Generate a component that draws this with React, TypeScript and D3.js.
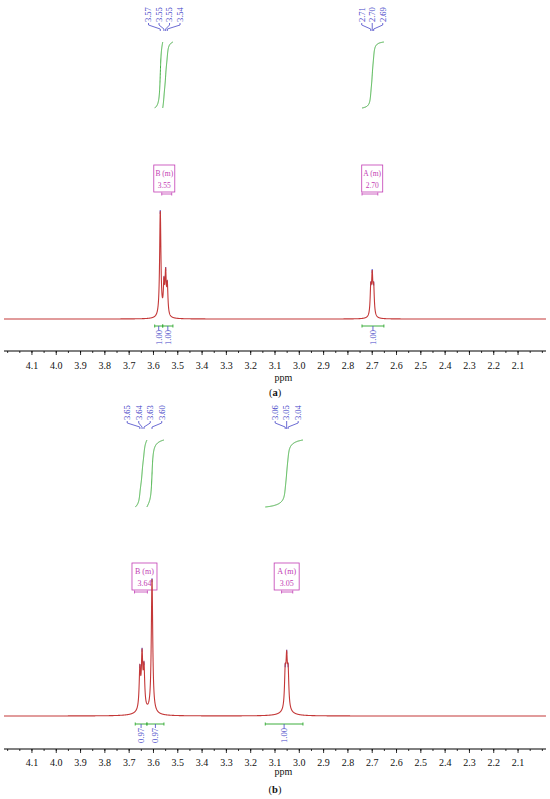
import React from 'react';
import * as d3 from 'd3';

// ---------- Panel (a) data ----------
const peaksA_ppm = [3.572, 3.557, 3.550, 3.543, 2.706, 2.700, 2.694, 3.562, 2.700];
const peaksA_int = [0.99, 0.27, 0.37, 0.27, 0.25, 0.35, 0.25, 0.012, 0.012];
const peaksA_w = [0.0032, 0.003, 0.003, 0.003, 0.003, 0.003, 0.003, 0.015, 0.012];
const labelPpmA = [3.572, 3.557, 3.550, 3.543, 2.706, 2.700, 2.694];
const labelTextA = ['3.57', '3.55', '3.55', '3.54', '2.71', '2.70', '2.69'];
const labelGroupA = [0, 0, 0, 0, 1, 1, 1];
const multNameA = ['B (m)', 'A (m)'];
const multShiftA = ['3.55', '2.70'];
const multRangeA = [[3.566, 3.525], [2.742, 2.677]];
const integRangeA = [[3.595, 3.562], [3.562, 3.520], [2.742, 2.652]];
const integValA = ['1.00', '1.00', '1.00'];

// ---------- Panel (b) data ----------
const peaksB_ppm = [3.656, 3.647, 3.639, 3.606, 3.058, 3.052, 3.046, 3.645, 3.606, 3.052];
const peaksB_int = [0.28, 0.37, 0.28, 0.96, 0.25, 0.32, 0.25, 0.025, 0.015, 0.025];
const peaksB_w = [0.0035, 0.0035, 0.0035, 0.0035, 0.0035, 0.0035, 0.0035, 0.03, 0.02, 0.03];
const labelPpmB = [3.656, 3.647, 3.639, 3.606, 3.058, 3.052, 3.046];
const labelTextB = ['3.65', '3.64', '3.63', '3.60', '3.06', '3.05', '3.04'];
const labelGroupB = [0, 0, 0, 0, 1, 1, 1];
const multNameB = ['B (m)', 'A (m)'];
const multShiftB = ['3.64', '3.05'];
const multRangeB = [[3.678, 3.625], [3.073, 3.027]];
const integRangeB = [[3.675, 3.627], [3.627, 3.557], [3.140, 2.985]];
const integValB = ['0.97', '0.97', '1.00'];

// ---------- axis ----------
const tickValues = [4.1, 4.0, 3.9, 3.8, 3.7, 3.6, 3.5, 3.4, 3.3, 3.2, 3.1, 3.0, 2.9, 2.8, 2.7, 2.6, 2.5, 2.4, 2.3, 2.2, 2.1];
const ppmDomain = [4.215, 1.985];

const RED = '#c43838';
const GREEN = '#3cae3c';
const BLUE = '#4646c8';
const MAG = '#c23cb4';
const FONT = '"Liberation Serif", "DejaVu Serif", serif';

const x = d3.scaleLinear().domain(ppmDomain).range([4, 546]);

function spec(p: number, ppm: number[], inten: number[], w: number[]) {
  let s = 0;
  for (let i = 0; i < ppm.length; i++) {
    const d = p - ppm[i];
    s += inten[i] * (w[i] * w[i]) / (d * d + w[i] * w[i]);
  }
  return s;
}

type Layout = {
  baseline: number; height: number; labelBottom: number; integBottom: number; integTop: number;
  boxTop: number; boxW: number; boxH: number; boxFont: number; multBracket: number;
  integBracket: number; axisY: number; tickY: number; ppmY: number; capY: number; caption: string;
  labelFont: number; labelSpacing: number;
};

function Panel(props: {
  ppm: number[]; inten: number[]; w: number[];
  labelPpm: number[]; labelText: string[]; labelGroup: number[];
  multName: string[]; multShift: string[]; multRange: number[][];
  integRange: number[][]; integVal: string[]; L: Layout;
}) {
  const { ppm, inten, w, labelPpm, labelText, labelGroup, multName, multShift, multRange, integRange, integVal, L } = props;
  const y = d3.scaleLinear().domain([0, 1]).range([L.baseline, L.baseline - L.height]);
  const f = (p: number) => spec(p, ppm, inten, w);
  const pts = d3.range(ppmDomain[0], ppmDomain[1] - 0.0001, -0.0003).map(p => [p, f(p)] as [number, number]);
  const line = d3.line<[number, number]>().x(d => x(d[0])).y(d => y(d[1]));

  // integrals
  const integPaths = integRange.map(([lo, hi]) => {
    const ps = d3.range(lo, hi - 0.00005, -0.0002);
    let cum = 0;
    const c: number[] = [0];
    for (let i = 1; i < ps.length; i++) {
      cum += (f(ps[i]) + f(ps[i - 1])) / 2;
      c.push(cum);
    }
    const yi = d3.scaleLinear().domain([0, cum]).range([L.integBottom, L.integTop]);
    const data = ps.map((p, i) => [p, c[i]] as [number, number]);
    return d3.line<[number, number]>().x(d => x(d[0])).y(d => yi(d[1]))(data) as string;
  });

  // label groups
  const groups = d3.groups(labelPpm.map((p, i) => ({ p, t: labelText[i], g: labelGroup[i] })), d => d.g);
  const labelEls: JSX.Element[] = [];
  const groupCenters: number[] = [];
  groups.forEach(([g, items]) => {
    const cx = d3.mean(items, d => x(d.p)) as number;
    groupCenters[g] = cx;
    const n = items.length;
    items.forEach((d, i) => {
      const xl = cx + (i - (n - 1) / 2) * L.labelSpacing;
      const xp = x(d.p);
      const yb = L.labelBottom;
      labelEls.push(
        <g key={`l${g}-${i}`}>
          <text transform={`translate(${xl + L.labelFont * 0.33},${yb}) rotate(-90)`} fontSize={L.labelFont} fill={BLUE} fontFamily={FONT}>{d.t}</text>
          <path d={`M${xl},${yb + 1}L${xl},${yb + 3}L${xp},${yb + 7}L${xp},${yb + 9}`} fill="none" stroke={BLUE} strokeWidth={0.8} />
          <line x1={xp} x2={xp} y1={y(f(d.p)) - 1} y2={y(f(d.p)) + 3} stroke={BLUE} strokeWidth={1.2} opacity={0.8} />
        </g>
      );
    });
  });

  const minorTicks = d3.range(4.2, 1.98, -0.05);

  return (
    <g>
      {integPaths.map((d, i) => <path key={`ip${i}`} d={d} fill="none" stroke={GREEN} strokeWidth={1} />)}
      {labelEls}
      {multName.map((m, i) => {
        const cx = groupCenters[i];
        const [a, b] = multRange[i];
        return (
          <g key={`m${i}`}>
            <rect x={cx - L.boxW / 2} y={L.boxTop} width={L.boxW} height={L.boxH} fill="none" stroke={MAG} strokeWidth={0.8} />
            <text x={cx} y={L.boxTop + L.boxH * 0.42} textAnchor="middle" fontSize={L.boxFont} fill={MAG} fontFamily={FONT}>{m}</text>
            <text x={cx} y={L.boxTop + L.boxH * 0.84} textAnchor="middle" fontSize={L.boxFont} fill={MAG} fontFamily={FONT}>{multShift[i]}</text>
            <line x1={x(a)} x2={x(b)} y1={L.multBracket} y2={L.multBracket} stroke={MAG} strokeWidth={0.8} />
            <line x1={x(a)} x2={x(a)} y1={L.multBracket - 1.5} y2={L.multBracket + 1.5} stroke={MAG} strokeWidth={0.8} />
            <line x1={x(b)} x2={x(b)} y1={L.multBracket - 1.5} y2={L.multBracket + 1.5} stroke={MAG} strokeWidth={0.8} />
          </g>
        );
      })}
      <path d={line(pts) as string} fill="none" stroke={RED} strokeWidth={1.1} />
      {integRange.map(([lo, hi], i) => {
        const xc = (x(lo) + x(hi)) / 2;
        const yb = L.integBracket;
        return (
          <g key={`ib${i}`}>
            <line x1={x(lo)} x2={x(hi)} y1={yb} y2={yb} stroke={GREEN} strokeWidth={1} />
            <line x1={x(lo)} x2={x(lo)} y1={yb - 1.5} y2={yb + 1.5} stroke={GREEN} strokeWidth={1} />
            <line x1={x(hi)} x2={x(hi)} y1={yb - 1.5} y2={yb + 1.5} stroke={GREEN} strokeWidth={1} />
            <line x1={xc} x2={xc} y1={yb} y2={yb + 4} stroke={BLUE} strokeWidth={0.8} />
            <text transform={`translate(${xc + L.labelFont * 0.33},${yb + 4}) rotate(-90)`} textAnchor="end" fontSize={L.labelFont} fill={BLUE} fontFamily={FONT}>{integVal[i]}</text>
          </g>
        );
      })}
      <line x1={4} x2={546} y1={L.axisY} y2={L.axisY} stroke="#000" strokeWidth={1} />
      {minorTicks.map((t, i) => (
        <line key={`mt${i}`} x1={x(t)} x2={x(t)} y1={L.axisY} y2={L.axisY + 2} stroke="#000" strokeWidth={0.8} />
      ))}
      {tickValues.map((t, i) => (
        <g key={`t${i}`}>
          <line x1={x(t)} x2={x(t)} y1={L.axisY} y2={L.axisY + 4} stroke="#000" strokeWidth={0.8} />
          <text x={x(t)} y={L.tickY + 3.5} textAnchor="middle" fontSize={10} fontFamily={FONT} fill="#111">{d3.format('.1f')(t)}</text>
        </g>
      ))}
      <text x={x(3.065)} y={L.ppmY + 3.5} textAnchor="middle" fontSize={10} fontFamily={FONT} fill="#111">ppm</text>
      <text x={275} y={L.capY + 3.5} textAnchor="middle" fontSize={10.5} fontFamily={FONT} fill="#111">
        (<tspan fontWeight="bold">{L.caption}</tspan>)
      </text>
    </g>
  );
}

const layoutA: Layout = {
  baseline: 319, height: 106, labelBottom: 22, integBottom: 108, integTop: 42,
  boxTop: 165, boxW: 21, boxH: 27, boxFont: 7.5, multBracket: 194,
  integBracket: 326, axisY: 351, tickY: 365, ppmY: 377, capY: 392, caption: 'a',
  labelFont: 8.5, labelSpacing: 10.5,
};
const layoutB: Layout = {
  baseline: 716, height: 138, labelBottom: 420, integBottom: 507, integTop: 440,
  boxTop: 563, boxW: 25, boxH: 27, boxFont: 8, multBracket: 592,
  integBracket: 724, axisY: 749, tickY: 762, ppmY: 771, capY: 789, caption: 'b',
  labelFont: 8.5, labelSpacing: 11.5,
};

export default function App() {
  return (
    <svg width={550} height={799} style={{ position: 'absolute', left: 0, top: 0, background: '#fff' }}>
      <rect width={550} height={799} fill="#fff" />
      <Panel ppm={peaksA_ppm} inten={peaksA_int} w={peaksA_w} labelPpm={labelPpmA} labelText={labelTextA}
        labelGroup={labelGroupA} multName={multNameA} multShift={multShiftA} multRange={multRangeA}
        integRange={integRangeA} integVal={integValA} L={layoutA} />
      <Panel ppm={peaksB_ppm} inten={peaksB_int} w={peaksB_w} labelPpm={labelPpmB} labelText={labelTextB}
        labelGroup={labelGroupB} multName={multNameB} multShift={multShiftB} multRange={multRangeB}
        integRange={integRangeB} integVal={integValB} L={layoutB} />
    </svg>
  );
}
